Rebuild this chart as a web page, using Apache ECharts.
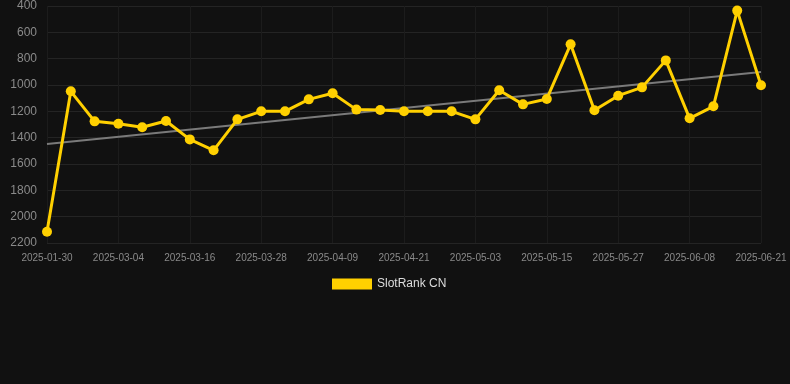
<!DOCTYPE html>
<html>
<head>
<meta charset="utf-8">
<script src="https://cdn.jsdelivr.net/npm/echarts@6/dist/echarts.min.js"></script>
<style>
html,body{margin:0;padding:0;background:#111111;}
#chart{width:790px;height:384px;}
</style>
</head>
<body>
<div id="chart"></div>
<script>
const categories = [
  "2025-01-30","2025-02-20","2025-02-28","2025-03-04","2025-03-08","2025-03-12",
  "2025-03-16","2025-03-20","2025-03-24","2025-03-28","2025-04-01","2025-04-05",
  "2025-04-09","2025-04-13","2025-04-17","2025-04-21","2025-04-25","2025-04-29",
  "2025-05-03","2025-05-07","2025-05-11","2025-05-15","2025-05-19","2025-05-23",
  "2025-05-27","2025-05-31","2025-06-04","2025-06-08","2025-06-12","2025-06-16",
  "2025-06-21"
];
const rankValues = [
  2114, 1048, 1276, 1294, 1321, 1273, 1413, 1496, 1261, 1200, 1200,
  1109, 1063, 1187, 1190, 1200, 1200, 1200, 1261, 1040, 1147, 1106,
  691, 1192, 1081, 1018, 813, 1253, 1162, 435, 1002
];
// trend line endpoints
const trendStart = 1448;
const trendEnd = 901;
const yTicks = { min: 400, max: 2200, interval: 200 };

const trendData = categories.map((c, i) => i === 0 ? trendStart : (i === categories.length - 1 ? trendEnd : null));

const chart = echarts.init(document.getElementById('chart'), null, {renderer: 'canvas'});
chart.setOption({
  backgroundColor: '#111111',
  animation: false,
  grid: { left: 47, right: 29, top: 6, bottom: 141, containLabel: false },
  legend: {
    data: [{ name: 'SlotRank CN', icon: 'rect' }],
    top: 273,
    left: 327,
    itemWidth: 40,
    itemHeight: 11,
    itemGap: 6,
    textStyle: { color: '#dddddd', fontSize: 12, fontFamily: 'Liberation Sans, Arial, sans-serif' }
  },
  xAxis: {
    type: 'category',
    data: categories,
    boundaryGap: false,
    axisLine: { show: false },
    axisTick: { show: false },
    axisLabel: {
      interval: 2,
      color: '#8a8a8a',
      fontSize: 10,
      margin: 10,
      fontFamily: 'Liberation Sans, Arial, sans-serif'
    },
    splitLine: { show: true, interval: 2, lineStyle: { color: '#1c1c1c', width: 1 } }
  },
  yAxis: {
    type: 'value',
    inverse: true,
    min: yTicks.min,
    max: yTicks.max,
    interval: yTicks.interval,
    axisLine: { show: false },
    axisTick: { show: false },
    axisLabel: {
      color: '#8a8a8a',
      fontSize: 12,
      margin: 10,
      formatter: function (v) { return String(v); },
      fontFamily: 'Liberation Sans, Arial, sans-serif'
    },
    splitLine: { lineStyle: { color: '#242424', width: 1 } }
  },
  series: [
    {
      name: 'Trend',
      type: 'line',
      data: trendData,
      connectNulls: true,
      symbol: 'none',
      lineStyle: { color: '#7a7a7a', width: 2 },
      z: 1,
      silent: true
    },
    {
      name: 'SlotRank CN',
      type: 'line',
      data: rankValues,
      symbol: 'circle',
      symbolSize: 10,
      itemStyle: { color: '#FFD000' },
      lineStyle: { color: '#FFD000', width: 3 },
      z: 3
    }
  ]
});
</script>
</body>
</html>
